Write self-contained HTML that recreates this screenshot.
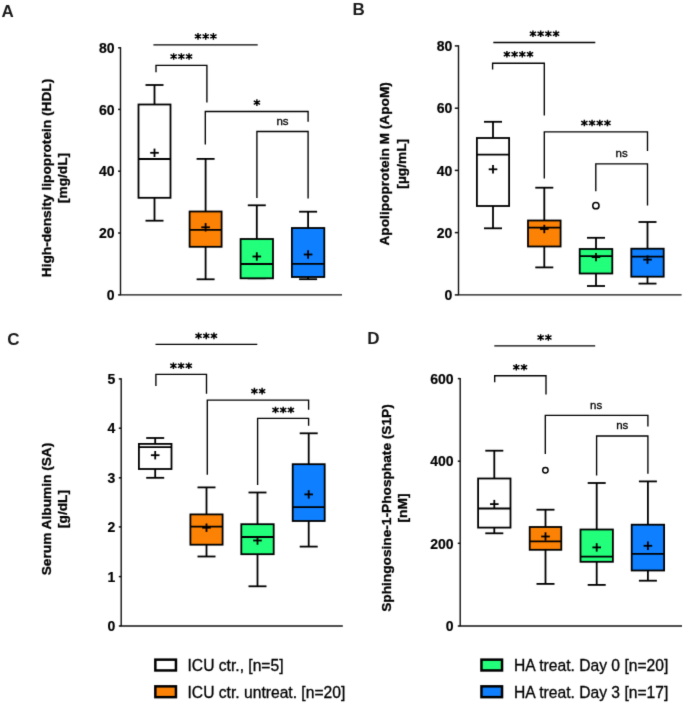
<!DOCTYPE html>
<html><head><meta charset="utf-8"><style>
html,body{margin:0;padding:0;background:#fff;width:685px;height:704px;overflow:hidden}
svg{display:block;font-family:"Liberation Sans",sans-serif;will-change:transform}
</style></head><body>
<svg width="685" height="704" viewBox="0 0 685 704">
<defs><filter id="bl" x="0" y="0" width="685" height="704" filterUnits="userSpaceOnUse" color-interpolation-filters="sRGB"><feConvolveMatrix order="3" kernelMatrix="0.01134 0.08382 0.01134 0.08382 0.61935 0.08382 0.01134 0.08382 0.01134" edgeMode="duplicate" preserveAlpha="true"/></filter></defs>
<g filter="url(#bl)">
<rect width="685" height="704" fill="#fff"/>
<text x="1.5" y="16.8" font-size="17" font-weight="bold" text-anchor="start" fill="#1a1a1a" >A</text>
<text x="352.4" y="15" font-size="17" font-weight="bold" text-anchor="start" fill="#1a1a1a" >B</text>
<text x="7.2" y="344.9" font-size="17" font-weight="bold" text-anchor="start" fill="#1a1a1a" >C</text>
<text x="367.2" y="343.6" font-size="17" font-weight="bold" text-anchor="start" fill="#1a1a1a" >D</text>
<line x1="120.5" y1="47.099999999999994" x2="120.5" y2="294.9" stroke="#111" stroke-width="1.4" stroke-linecap="butt"/>
<line x1="119.8" y1="294.9" x2="342" y2="294.9" stroke="#111" stroke-width="1.4" stroke-linecap="butt"/>
<line x1="118.1" y1="47.8" x2="120.5" y2="47.8" stroke="#111" stroke-width="1.5" stroke-linecap="butt"/>
<text transform="translate(114.6,53.0) scale(0.905,1)" font-size="15.5" font-weight="bold" text-anchor="end" stroke="#000" stroke-width="0.2">80</text>
<line x1="118.1" y1="109.4" x2="120.5" y2="109.4" stroke="#111" stroke-width="1.5" stroke-linecap="butt"/>
<text transform="translate(114.6,114.6) scale(0.905,1)" font-size="15.5" font-weight="bold" text-anchor="end" stroke="#000" stroke-width="0.2">60</text>
<line x1="118.1" y1="171.2" x2="120.5" y2="171.2" stroke="#111" stroke-width="1.5" stroke-linecap="butt"/>
<text transform="translate(114.6,176.4) scale(0.905,1)" font-size="15.5" font-weight="bold" text-anchor="end" stroke="#000" stroke-width="0.2">40</text>
<line x1="118.1" y1="233.0" x2="120.5" y2="233.0" stroke="#111" stroke-width="1.5" stroke-linecap="butt"/>
<text transform="translate(114.6,238.2) scale(0.905,1)" font-size="15.5" font-weight="bold" text-anchor="end" stroke="#000" stroke-width="0.2">20</text>
<line x1="118.1" y1="294.9" x2="120.5" y2="294.9" stroke="#111" stroke-width="1.5" stroke-linecap="butt"/>
<text transform="translate(114.6,300.1) scale(0.905,1)" font-size="15.5" font-weight="bold" text-anchor="end" stroke="#000" stroke-width="0.2">0</text>
<text transform="translate(51.4,178) rotate(-90)" font-size="13.7" font-weight="bold" text-anchor="middle" stroke="#000" stroke-width="0.3">High-density lipoprotein (HDL)</text>
<text transform="translate(67.0,178) rotate(-90)" font-size="13.7" font-weight="bold" text-anchor="middle" stroke="#000" stroke-width="0.3">[mg/dL]</text>
<line x1="154.5" y1="85" x2="154.5" y2="104.5" stroke="#000" stroke-width="1.8" stroke-linecap="butt"/>
<line x1="154.5" y1="197.8" x2="154.5" y2="220.7" stroke="#000" stroke-width="1.8" stroke-linecap="butt"/>
<line x1="145.5" y1="85" x2="163.5" y2="85" stroke="#000" stroke-width="1.8" stroke-linecap="butt"/>
<line x1="145.5" y1="220.7" x2="163.5" y2="220.7" stroke="#000" stroke-width="1.8" stroke-linecap="butt"/>
<rect x="138.5" y="104.5" width="32" height="93.30000000000001" fill="#fff" stroke="#000" stroke-width="1.8"/>
<line x1="138.5" y1="159" x2="170.5" y2="159" stroke="#000" stroke-width="1.8" stroke-linecap="butt"/>
<line x1="150.2" y1="152.8" x2="158.8" y2="152.8" stroke="#000" stroke-width="1.8" stroke-linecap="butt"/>
<line x1="154.5" y1="148.60000000000002" x2="154.5" y2="157.0" stroke="#000" stroke-width="1.8" stroke-linecap="butt"/>
<line x1="205.6" y1="158.9" x2="205.6" y2="211.5" stroke="#000" stroke-width="1.8" stroke-linecap="butt"/>
<line x1="205.6" y1="246.8" x2="205.6" y2="279.3" stroke="#000" stroke-width="1.8" stroke-linecap="butt"/>
<line x1="196.6" y1="158.9" x2="214.6" y2="158.9" stroke="#000" stroke-width="1.8" stroke-linecap="butt"/>
<line x1="196.6" y1="279.3" x2="214.6" y2="279.3" stroke="#000" stroke-width="1.8" stroke-linecap="butt"/>
<rect x="189.6" y="211.5" width="32" height="35.30000000000001" fill="#FC8205" stroke="#000" stroke-width="1.8"/>
<line x1="189.6" y1="229.8" x2="221.6" y2="229.8" stroke="#000" stroke-width="1.8" stroke-linecap="butt"/>
<line x1="201.29999999999998" y1="227.3" x2="209.9" y2="227.3" stroke="#000" stroke-width="1.8" stroke-linecap="butt"/>
<line x1="205.6" y1="223.10000000000002" x2="205.6" y2="231.5" stroke="#000" stroke-width="1.8" stroke-linecap="butt"/>
<line x1="256.8" y1="205.3" x2="256.8" y2="239" stroke="#000" stroke-width="1.8" stroke-linecap="butt"/>
<line x1="256.8" y1="278.3" x2="256.8" y2="278.3" stroke="#000" stroke-width="1.8" stroke-linecap="butt"/>
<line x1="247.8" y1="205.3" x2="265.8" y2="205.3" stroke="#000" stroke-width="1.8" stroke-linecap="butt"/>
<line x1="247.8" y1="278.3" x2="265.8" y2="278.3" stroke="#000" stroke-width="1.8" stroke-linecap="butt"/>
<rect x="240.60000000000002" y="239" width="32.4" height="39.30000000000001" fill="#22FF7A" stroke="#000" stroke-width="1.8"/>
<line x1="240.60000000000002" y1="264" x2="273.0" y2="264" stroke="#000" stroke-width="1.8" stroke-linecap="butt"/>
<line x1="252.5" y1="256.5" x2="261.1" y2="256.5" stroke="#000" stroke-width="1.8" stroke-linecap="butt"/>
<line x1="256.8" y1="252.3" x2="256.8" y2="260.7" stroke="#000" stroke-width="1.8" stroke-linecap="butt"/>
<line x1="308.1" y1="211.7" x2="308.1" y2="228" stroke="#000" stroke-width="1.8" stroke-linecap="butt"/>
<line x1="308.1" y1="277" x2="308.1" y2="279.2" stroke="#000" stroke-width="1.8" stroke-linecap="butt"/>
<line x1="299.1" y1="211.7" x2="317.1" y2="211.7" stroke="#000" stroke-width="1.8" stroke-linecap="butt"/>
<line x1="299.1" y1="279.2" x2="317.1" y2="279.2" stroke="#000" stroke-width="1.8" stroke-linecap="butt"/>
<rect x="291.90000000000003" y="228" width="32.4" height="49" fill="#0E7FFE" stroke="#000" stroke-width="1.8"/>
<line x1="291.90000000000003" y1="263.8" x2="324.3" y2="263.8" stroke="#000" stroke-width="1.8" stroke-linecap="butt"/>
<line x1="303.8" y1="254.5" x2="312.40000000000003" y2="254.5" stroke="#000" stroke-width="1.8" stroke-linecap="butt"/>
<line x1="308.1" y1="250.3" x2="308.1" y2="258.7" stroke="#000" stroke-width="1.8" stroke-linecap="butt"/>
<line x1="153.4" y1="44.9" x2="257.7" y2="44.9" stroke="#000" stroke-width="1.35" stroke-linecap="butt"/>
<path d="M198.00 33.10V39.70M194.86 34.59L201.14 38.21M194.86 38.21L201.14 34.59" stroke="#000" stroke-width="1.45" fill="none"/><circle cx="198.00" cy="36.40" r="1.35" fill="#000"/>
<path d="M205.70 33.10V39.70M202.56 34.59L208.84 38.21M202.56 38.21L208.84 34.59" stroke="#000" stroke-width="1.45" fill="none"/><circle cx="205.70" cy="36.40" r="1.35" fill="#000"/>
<path d="M213.40 33.10V39.70M210.26 34.59L216.54 38.21M210.26 38.21L216.54 34.59" stroke="#000" stroke-width="1.45" fill="none"/><circle cx="213.40" cy="36.40" r="1.35" fill="#000"/>
<polyline points="156,72.3 156,65.3 206.9,65.3 206.9,102.6" fill="none" stroke="#000" stroke-width="1.35" stroke-linejoin="miter"/>
<path d="M173.65 53.20V59.80M170.51 54.69L176.79 58.31M170.51 58.31L176.79 54.69" stroke="#000" stroke-width="1.45" fill="none"/><circle cx="173.65" cy="56.50" r="1.35" fill="#000"/>
<path d="M181.35 53.20V59.80M178.21 54.69L184.49 58.31M178.21 58.31L184.49 54.69" stroke="#000" stroke-width="1.45" fill="none"/><circle cx="181.35" cy="56.50" r="1.35" fill="#000"/>
<path d="M189.05 53.20V59.80M185.91 54.69L192.19 58.31M185.91 58.31L192.19 54.69" stroke="#000" stroke-width="1.45" fill="none"/><circle cx="189.05" cy="56.50" r="1.35" fill="#000"/>
<polyline points="205.3,144.6 205.3,111.5 308.1,111.5 308.1,121.8" fill="none" stroke="#000" stroke-width="1.35" stroke-linejoin="miter"/>
<path d="M256.90 99.30V105.90M253.76 100.78L260.04 104.41M253.76 104.41L260.04 100.78" stroke="#000" stroke-width="1.45" fill="none"/><circle cx="256.90" cy="102.60" r="1.35" fill="#000"/>
<polyline points="256.9,198.1 256.9,131.5 308.1,131.5 308.1,198.5" fill="none" stroke="#000" stroke-width="1.35" stroke-linejoin="miter"/>
<text x="282.5" y="124.9" font-size="11.5" font-weight="normal" text-anchor="middle" fill="#000" stroke="#000" stroke-width="0.3">ns</text>
<line x1="458.5" y1="45.199999999999996" x2="458.5" y2="294.9" stroke="#111" stroke-width="1.4" stroke-linecap="butt"/>
<line x1="457.8" y1="294.9" x2="681.6" y2="294.9" stroke="#111" stroke-width="1.4" stroke-linecap="butt"/>
<line x1="454.8" y1="45.9" x2="458.5" y2="45.9" stroke="#111" stroke-width="1.5" stroke-linecap="butt"/>
<text transform="translate(452.4,51.1) scale(0.905,1)" font-size="15.5" font-weight="bold" text-anchor="end" stroke="#000" stroke-width="0.2">80</text>
<line x1="454.8" y1="108.2" x2="458.5" y2="108.2" stroke="#111" stroke-width="1.5" stroke-linecap="butt"/>
<text transform="translate(452.4,113.4) scale(0.905,1)" font-size="15.5" font-weight="bold" text-anchor="end" stroke="#000" stroke-width="0.2">60</text>
<line x1="454.8" y1="170.4" x2="458.5" y2="170.4" stroke="#111" stroke-width="1.5" stroke-linecap="butt"/>
<text transform="translate(452.4,175.6) scale(0.905,1)" font-size="15.5" font-weight="bold" text-anchor="end" stroke="#000" stroke-width="0.2">40</text>
<line x1="454.8" y1="232.6" x2="458.5" y2="232.6" stroke="#111" stroke-width="1.5" stroke-linecap="butt"/>
<text transform="translate(452.4,237.8) scale(0.905,1)" font-size="15.5" font-weight="bold" text-anchor="end" stroke="#000" stroke-width="0.2">20</text>
<line x1="454.8" y1="294.9" x2="458.5" y2="294.9" stroke="#111" stroke-width="1.5" stroke-linecap="butt"/>
<text transform="translate(452.4,300.1) scale(0.905,1)" font-size="15.5" font-weight="bold" text-anchor="end" stroke="#000" stroke-width="0.2">0</text>
<text transform="translate(389.4,163.8) rotate(-90)" font-size="13.7" font-weight="bold" text-anchor="middle" stroke="#000" stroke-width="0.3">Apolipoprotein M (ApoM)</text>
<text transform="translate(405.5,163.8) rotate(-90)" font-size="13.7" font-weight="bold" text-anchor="middle" stroke="#000" stroke-width="0.3">[µg/mL]</text>
<line x1="493" y1="121.8" x2="493" y2="138" stroke="#000" stroke-width="1.8" stroke-linecap="butt"/>
<line x1="493" y1="206" x2="493" y2="228.3" stroke="#000" stroke-width="1.8" stroke-linecap="butt"/>
<line x1="484" y1="121.8" x2="502" y2="121.8" stroke="#000" stroke-width="1.8" stroke-linecap="butt"/>
<line x1="484" y1="228.3" x2="502" y2="228.3" stroke="#000" stroke-width="1.8" stroke-linecap="butt"/>
<rect x="476.9" y="138" width="32.2" height="68" fill="#fff" stroke="#000" stroke-width="1.8"/>
<line x1="476.9" y1="154.6" x2="509.1" y2="154.6" stroke="#000" stroke-width="1.8" stroke-linecap="butt"/>
<line x1="488.7" y1="169.3" x2="497.3" y2="169.3" stroke="#000" stroke-width="1.8" stroke-linecap="butt"/>
<line x1="493" y1="165.10000000000002" x2="493" y2="173.5" stroke="#000" stroke-width="1.8" stroke-linecap="butt"/>
<line x1="544.3" y1="187.7" x2="544.3" y2="220.5" stroke="#000" stroke-width="1.8" stroke-linecap="butt"/>
<line x1="544.3" y1="246.5" x2="544.3" y2="267.4" stroke="#000" stroke-width="1.8" stroke-linecap="butt"/>
<line x1="535.3" y1="187.7" x2="553.3" y2="187.7" stroke="#000" stroke-width="1.8" stroke-linecap="butt"/>
<line x1="535.3" y1="267.4" x2="553.3" y2="267.4" stroke="#000" stroke-width="1.8" stroke-linecap="butt"/>
<rect x="528.0" y="220.5" width="32.6" height="26.0" fill="#FC8205" stroke="#000" stroke-width="1.8"/>
<line x1="528.0" y1="227.7" x2="560.5999999999999" y2="227.7" stroke="#000" stroke-width="1.8" stroke-linecap="butt"/>
<line x1="540.0" y1="229" x2="548.5999999999999" y2="229" stroke="#000" stroke-width="1.8" stroke-linecap="butt"/>
<line x1="544.3" y1="224.8" x2="544.3" y2="233.2" stroke="#000" stroke-width="1.8" stroke-linecap="butt"/>
<line x1="596" y1="237.8" x2="596" y2="249" stroke="#000" stroke-width="1.8" stroke-linecap="butt"/>
<line x1="596" y1="273.5" x2="596" y2="286" stroke="#000" stroke-width="1.8" stroke-linecap="butt"/>
<line x1="587" y1="237.8" x2="605" y2="237.8" stroke="#000" stroke-width="1.8" stroke-linecap="butt"/>
<line x1="587" y1="286" x2="605" y2="286" stroke="#000" stroke-width="1.8" stroke-linecap="butt"/>
<rect x="579.7" y="249" width="32.6" height="24.5" fill="#22FF7A" stroke="#000" stroke-width="1.8"/>
<line x1="579.7" y1="256.2" x2="612.3" y2="256.2" stroke="#000" stroke-width="1.8" stroke-linecap="butt"/>
<line x1="591.7" y1="257.1" x2="600.3" y2="257.1" stroke="#000" stroke-width="1.8" stroke-linecap="butt"/>
<line x1="596" y1="252.90000000000003" x2="596" y2="261.3" stroke="#000" stroke-width="1.8" stroke-linecap="butt"/>
<line x1="647.5" y1="222" x2="647.5" y2="248.7" stroke="#000" stroke-width="1.8" stroke-linecap="butt"/>
<line x1="647.5" y1="276.7" x2="647.5" y2="283.6" stroke="#000" stroke-width="1.8" stroke-linecap="butt"/>
<line x1="638.5" y1="222" x2="656.5" y2="222" stroke="#000" stroke-width="1.8" stroke-linecap="butt"/>
<line x1="638.5" y1="283.6" x2="656.5" y2="283.6" stroke="#000" stroke-width="1.8" stroke-linecap="butt"/>
<rect x="631.3" y="248.7" width="32.4" height="28.0" fill="#0E7FFE" stroke="#000" stroke-width="1.8"/>
<line x1="631.3" y1="256.6" x2="663.7" y2="256.6" stroke="#000" stroke-width="1.8" stroke-linecap="butt"/>
<line x1="643.2" y1="259.6" x2="651.8" y2="259.6" stroke="#000" stroke-width="1.8" stroke-linecap="butt"/>
<line x1="647.5" y1="255.40000000000003" x2="647.5" y2="263.8" stroke="#000" stroke-width="1.8" stroke-linecap="butt"/>
<circle cx="595.9" cy="205.7" r="3.15" fill="#fff" stroke="#000" stroke-width="1.5"/>
<line x1="493.3" y1="42.5" x2="595.3" y2="42.5" stroke="#000" stroke-width="1.35" stroke-linecap="butt"/>
<path d="M532.95 30.45V37.05M529.81 31.93L536.09 35.56M529.81 35.56L536.09 31.93" stroke="#000" stroke-width="1.45" fill="none"/><circle cx="532.95" cy="33.75" r="1.35" fill="#000"/>
<path d="M540.65 30.45V37.05M537.51 31.93L543.79 35.56M537.51 35.56L543.79 31.93" stroke="#000" stroke-width="1.45" fill="none"/><circle cx="540.65" cy="33.75" r="1.35" fill="#000"/>
<path d="M548.35 30.45V37.05M545.21 31.93L551.49 35.56M545.21 35.56L551.49 31.93" stroke="#000" stroke-width="1.45" fill="none"/><circle cx="548.35" cy="33.75" r="1.35" fill="#000"/>
<path d="M556.05 30.45V37.05M552.91 31.93L559.19 35.56M552.91 35.56L559.19 31.93" stroke="#000" stroke-width="1.45" fill="none"/><circle cx="556.05" cy="33.75" r="1.35" fill="#000"/>
<polyline points="492.6,69.5 492.6,63.2 544.3,63.2 544.3,115.5" fill="none" stroke="#000" stroke-width="1.35" stroke-linejoin="miter"/>
<path d="M506.90 50.90V57.50M503.76 52.39L510.04 56.02M503.76 56.02L510.04 52.39" stroke="#000" stroke-width="1.45" fill="none"/><circle cx="506.90" cy="54.20" r="1.35" fill="#000"/>
<path d="M514.60 50.90V57.50M511.46 52.39L517.74 56.02M511.46 56.02L517.74 52.39" stroke="#000" stroke-width="1.45" fill="none"/><circle cx="514.60" cy="54.20" r="1.35" fill="#000"/>
<path d="M522.30 50.90V57.50M519.16 52.39L525.44 56.02M519.16 56.02L525.44 52.39" stroke="#000" stroke-width="1.45" fill="none"/><circle cx="522.30" cy="54.20" r="1.35" fill="#000"/>
<path d="M530.00 50.90V57.50M526.86 52.39L533.14 56.02M526.86 56.02L533.14 52.39" stroke="#000" stroke-width="1.45" fill="none"/><circle cx="530.00" cy="54.20" r="1.35" fill="#000"/>
<polyline points="544.3,178.5 544.3,131.9 647.5,131.9 647.5,150.9" fill="none" stroke="#000" stroke-width="1.35" stroke-linejoin="miter"/>
<path d="M584.35 119.70V126.30M581.21 121.19L587.49 124.81M581.21 124.81L587.49 121.19" stroke="#000" stroke-width="1.45" fill="none"/><circle cx="584.35" cy="123.00" r="1.35" fill="#000"/>
<path d="M592.05 119.70V126.30M588.91 121.19L595.19 124.81M588.91 124.81L595.19 121.19" stroke="#000" stroke-width="1.45" fill="none"/><circle cx="592.05" cy="123.00" r="1.35" fill="#000"/>
<path d="M599.75 119.70V126.30M596.61 121.19L602.89 124.81M596.61 124.81L602.89 121.19" stroke="#000" stroke-width="1.45" fill="none"/><circle cx="599.75" cy="123.00" r="1.35" fill="#000"/>
<path d="M607.45 119.70V126.30M604.31 121.19L610.59 124.81M604.31 124.81L610.59 121.19" stroke="#000" stroke-width="1.45" fill="none"/><circle cx="607.45" cy="123.00" r="1.35" fill="#000"/>
<polyline points="595.8,191.3 595.8,163.8 647.5,163.8 647.5,205.4" fill="none" stroke="#000" stroke-width="1.35" stroke-linejoin="miter"/>
<text x="621.6" y="157.4" font-size="11.5" font-weight="normal" text-anchor="middle" fill="#000" stroke="#000" stroke-width="0.3">ns</text>
<line x1="121.2" y1="378.2" x2="121.2" y2="626" stroke="#111" stroke-width="1.4" stroke-linecap="butt"/>
<line x1="120.5" y1="626" x2="342.8" y2="626" stroke="#111" stroke-width="1.4" stroke-linecap="butt"/>
<line x1="118.8" y1="378.9" x2="121.2" y2="378.9" stroke="#111" stroke-width="1.5" stroke-linecap="butt"/>
<text transform="translate(115.2,384.1) scale(0.905,1)" font-size="15.5" font-weight="bold" text-anchor="end" stroke="#000" stroke-width="0.2">5</text>
<line x1="118.8" y1="428.2" x2="121.2" y2="428.2" stroke="#111" stroke-width="1.5" stroke-linecap="butt"/>
<text transform="translate(115.2,433.4) scale(0.905,1)" font-size="15.5" font-weight="bold" text-anchor="end" stroke="#000" stroke-width="0.2">4</text>
<line x1="118.8" y1="477.8" x2="121.2" y2="477.8" stroke="#111" stroke-width="1.5" stroke-linecap="butt"/>
<text transform="translate(115.2,483.0) scale(0.905,1)" font-size="15.5" font-weight="bold" text-anchor="end" stroke="#000" stroke-width="0.2">3</text>
<line x1="118.8" y1="526.9" x2="121.2" y2="526.9" stroke="#111" stroke-width="1.5" stroke-linecap="butt"/>
<text transform="translate(115.2,532.1) scale(0.905,1)" font-size="15.5" font-weight="bold" text-anchor="end" stroke="#000" stroke-width="0.2">2</text>
<line x1="118.8" y1="576.6" x2="121.2" y2="576.6" stroke="#111" stroke-width="1.5" stroke-linecap="butt"/>
<text transform="translate(115.2,581.8) scale(0.905,1)" font-size="15.5" font-weight="bold" text-anchor="end" stroke="#000" stroke-width="0.2">1</text>
<line x1="118.8" y1="626" x2="121.2" y2="626" stroke="#111" stroke-width="1.5" stroke-linecap="butt"/>
<text transform="translate(115.2,631.2) scale(0.905,1)" font-size="15.5" font-weight="bold" text-anchor="end" stroke="#000" stroke-width="0.2">0</text>
<text transform="translate(51.4,509) rotate(-90)" font-size="13.7" font-weight="bold" text-anchor="middle" stroke="#000" stroke-width="0.3">Serum Albumin (SA)</text>
<text transform="translate(67.0,509) rotate(-90)" font-size="13.7" font-weight="bold" text-anchor="middle" stroke="#000" stroke-width="0.3">[g/dL]</text>
<line x1="155.2" y1="438" x2="155.2" y2="443.9" stroke="#000" stroke-width="1.8" stroke-linecap="butt"/>
<line x1="155.2" y1="469" x2="155.2" y2="477.8" stroke="#000" stroke-width="1.8" stroke-linecap="butt"/>
<line x1="146.2" y1="438" x2="164.2" y2="438" stroke="#000" stroke-width="1.8" stroke-linecap="butt"/>
<line x1="146.2" y1="477.8" x2="164.2" y2="477.8" stroke="#000" stroke-width="1.8" stroke-linecap="butt"/>
<rect x="138.89999999999998" y="443.9" width="32.6" height="25.100000000000023" fill="#fff" stroke="#000" stroke-width="1.8"/>
<line x1="138.89999999999998" y1="447.2" x2="171.5" y2="447.2" stroke="#000" stroke-width="1.8" stroke-linecap="butt"/>
<line x1="150.89999999999998" y1="455.2" x2="159.5" y2="455.2" stroke="#000" stroke-width="1.8" stroke-linecap="butt"/>
<line x1="155.2" y1="451.0" x2="155.2" y2="459.4" stroke="#000" stroke-width="1.8" stroke-linecap="butt"/>
<line x1="206.5" y1="487.4" x2="206.5" y2="514.4" stroke="#000" stroke-width="1.8" stroke-linecap="butt"/>
<line x1="206.5" y1="544.7" x2="206.5" y2="556.5" stroke="#000" stroke-width="1.8" stroke-linecap="butt"/>
<line x1="197.5" y1="487.4" x2="215.5" y2="487.4" stroke="#000" stroke-width="1.8" stroke-linecap="butt"/>
<line x1="197.5" y1="556.5" x2="215.5" y2="556.5" stroke="#000" stroke-width="1.8" stroke-linecap="butt"/>
<rect x="190.4" y="514.4" width="32.2" height="30.300000000000068" fill="#FC8205" stroke="#000" stroke-width="1.8"/>
<line x1="190.4" y1="526.7" x2="222.6" y2="526.7" stroke="#000" stroke-width="1.8" stroke-linecap="butt"/>
<line x1="202.2" y1="527.7" x2="210.8" y2="527.7" stroke="#000" stroke-width="1.8" stroke-linecap="butt"/>
<line x1="206.5" y1="523.5" x2="206.5" y2="531.9000000000001" stroke="#000" stroke-width="1.8" stroke-linecap="butt"/>
<line x1="257.5" y1="492.5" x2="257.5" y2="524.2" stroke="#000" stroke-width="1.8" stroke-linecap="butt"/>
<line x1="257.5" y1="554.2" x2="257.5" y2="586.3" stroke="#000" stroke-width="1.8" stroke-linecap="butt"/>
<line x1="248.5" y1="492.5" x2="266.5" y2="492.5" stroke="#000" stroke-width="1.8" stroke-linecap="butt"/>
<line x1="248.5" y1="586.3" x2="266.5" y2="586.3" stroke="#000" stroke-width="1.8" stroke-linecap="butt"/>
<rect x="241.3" y="524.2" width="32.4" height="30.0" fill="#22FF7A" stroke="#000" stroke-width="1.8"/>
<line x1="241.3" y1="537" x2="273.7" y2="537" stroke="#000" stroke-width="1.8" stroke-linecap="butt"/>
<line x1="253.2" y1="540.5" x2="261.8" y2="540.5" stroke="#000" stroke-width="1.8" stroke-linecap="butt"/>
<line x1="257.5" y1="536.3" x2="257.5" y2="544.7" stroke="#000" stroke-width="1.8" stroke-linecap="butt"/>
<line x1="308.7" y1="433.3" x2="308.7" y2="464.2" stroke="#000" stroke-width="1.8" stroke-linecap="butt"/>
<line x1="308.7" y1="521" x2="308.7" y2="546.6" stroke="#000" stroke-width="1.8" stroke-linecap="butt"/>
<line x1="299.7" y1="433.3" x2="317.7" y2="433.3" stroke="#000" stroke-width="1.8" stroke-linecap="butt"/>
<line x1="299.7" y1="546.6" x2="317.7" y2="546.6" stroke="#000" stroke-width="1.8" stroke-linecap="butt"/>
<rect x="292.7" y="464.2" width="32" height="56.80000000000001" fill="#0E7FFE" stroke="#000" stroke-width="1.8"/>
<line x1="292.7" y1="507.2" x2="324.7" y2="507.2" stroke="#000" stroke-width="1.8" stroke-linecap="butt"/>
<line x1="304.4" y1="494.4" x2="313.0" y2="494.4" stroke="#000" stroke-width="1.8" stroke-linecap="butt"/>
<line x1="308.7" y1="490.2" x2="308.7" y2="498.59999999999997" stroke="#000" stroke-width="1.8" stroke-linecap="butt"/>
<line x1="155.5" y1="344.3" x2="257.3" y2="344.3" stroke="#000" stroke-width="1.35" stroke-linecap="butt"/>
<path d="M198.55 332.55V339.15M195.41 334.04L201.69 337.67M195.41 337.67L201.69 334.04" stroke="#000" stroke-width="1.45" fill="none"/><circle cx="198.55" cy="335.85" r="1.35" fill="#000"/>
<path d="M206.25 332.55V339.15M203.11 334.04L209.39 337.67M203.11 337.67L209.39 334.04" stroke="#000" stroke-width="1.45" fill="none"/><circle cx="206.25" cy="335.85" r="1.35" fill="#000"/>
<path d="M213.95 332.55V339.15M210.81 334.04L217.09 337.67M210.81 337.67L217.09 334.04" stroke="#000" stroke-width="1.45" fill="none"/><circle cx="213.95" cy="335.85" r="1.35" fill="#000"/>
<polyline points="155.9,386 155.9,374.4 206.5,374.4 206.5,393.7" fill="none" stroke="#000" stroke-width="1.35" stroke-linejoin="miter"/>
<path d="M173.40 362.50V369.10M170.26 363.99L176.54 367.62M170.26 367.62L176.54 363.99" stroke="#000" stroke-width="1.45" fill="none"/><circle cx="173.40" cy="365.80" r="1.35" fill="#000"/>
<path d="M181.10 362.50V369.10M177.96 363.99L184.24 367.62M177.96 367.62L184.24 363.99" stroke="#000" stroke-width="1.45" fill="none"/><circle cx="181.10" cy="365.80" r="1.35" fill="#000"/>
<path d="M188.80 362.50V369.10M185.66 363.99L191.94 367.62M185.66 367.62L191.94 363.99" stroke="#000" stroke-width="1.45" fill="none"/><circle cx="188.80" cy="365.80" r="1.35" fill="#000"/>
<polyline points="207.3,474.8 207.3,400.1 308.6,400.1 308.6,409.7" fill="none" stroke="#000" stroke-width="1.35" stroke-linejoin="miter"/>
<path d="M254.40 387.85V394.45M251.26 389.33L257.54 392.96M251.26 392.96L257.54 389.33" stroke="#000" stroke-width="1.45" fill="none"/><circle cx="254.40" cy="391.15" r="1.35" fill="#000"/>
<path d="M262.10 387.85V394.45M258.96 389.33L265.24 392.96M258.96 392.96L265.24 389.33" stroke="#000" stroke-width="1.45" fill="none"/><circle cx="262.10" cy="391.15" r="1.35" fill="#000"/>
<polyline points="257.6,485.1 257.6,418.3 308.6,418.3 308.6,425.8" fill="none" stroke="#000" stroke-width="1.35" stroke-linejoin="miter"/>
<path d="M275.50 406.65V413.25M272.36 408.13L278.64 411.76M272.36 411.76L278.64 408.13" stroke="#000" stroke-width="1.45" fill="none"/><circle cx="275.50" cy="409.95" r="1.35" fill="#000"/>
<path d="M283.20 406.65V413.25M280.06 408.13L286.34 411.76M280.06 411.76L286.34 408.13" stroke="#000" stroke-width="1.45" fill="none"/><circle cx="283.20" cy="409.95" r="1.35" fill="#000"/>
<path d="M290.90 406.65V413.25M287.76 408.13L294.04 411.76M287.76 411.76L294.04 408.13" stroke="#000" stroke-width="1.45" fill="none"/><circle cx="290.90" cy="409.95" r="1.35" fill="#000"/>
<line x1="460.2" y1="377.90000000000003" x2="460.2" y2="626" stroke="#111" stroke-width="1.4" stroke-linecap="butt"/>
<line x1="459.5" y1="626" x2="682" y2="626" stroke="#111" stroke-width="1.4" stroke-linecap="butt"/>
<line x1="457.8" y1="378.6" x2="460.2" y2="378.6" stroke="#111" stroke-width="1.5" stroke-linecap="butt"/>
<text transform="translate(453.6,383.8) scale(0.905,1)" font-size="15.5" font-weight="bold" text-anchor="end" stroke="#000" stroke-width="0.2">600</text>
<line x1="457.8" y1="461.2" x2="460.2" y2="461.2" stroke="#111" stroke-width="1.5" stroke-linecap="butt"/>
<text transform="translate(453.6,466.4) scale(0.905,1)" font-size="15.5" font-weight="bold" text-anchor="end" stroke="#000" stroke-width="0.2">400</text>
<line x1="457.8" y1="543.3" x2="460.2" y2="543.3" stroke="#111" stroke-width="1.5" stroke-linecap="butt"/>
<text transform="translate(453.6,548.5) scale(0.905,1)" font-size="15.5" font-weight="bold" text-anchor="end" stroke="#000" stroke-width="0.2">200</text>
<line x1="457.8" y1="626" x2="460.2" y2="626" stroke="#111" stroke-width="1.5" stroke-linecap="butt"/>
<text transform="translate(453.6,631.2) scale(0.905,1)" font-size="15.5" font-weight="bold" text-anchor="end" stroke="#000" stroke-width="0.2">0</text>
<text transform="translate(391.4,508) rotate(-90)" font-size="13.7" font-weight="bold" text-anchor="middle" stroke="#000" stroke-width="0.3">Sphingosine-1-Phosphate (S1P)</text>
<text transform="translate(406.6,508) rotate(-90)" font-size="13.7" font-weight="bold" text-anchor="middle" stroke="#000" stroke-width="0.3">[nM]</text>
<line x1="494.3" y1="450.7" x2="494.3" y2="478.5" stroke="#000" stroke-width="1.8" stroke-linecap="butt"/>
<line x1="494.3" y1="527.6" x2="494.3" y2="533.3" stroke="#000" stroke-width="1.8" stroke-linecap="butt"/>
<line x1="485.3" y1="450.7" x2="503.3" y2="450.7" stroke="#000" stroke-width="1.8" stroke-linecap="butt"/>
<line x1="485.3" y1="533.3" x2="503.3" y2="533.3" stroke="#000" stroke-width="1.8" stroke-linecap="butt"/>
<rect x="478.1" y="478.5" width="32.4" height="49.10000000000002" fill="#fff" stroke="#000" stroke-width="1.8"/>
<line x1="478.1" y1="508.5" x2="510.5" y2="508.5" stroke="#000" stroke-width="1.8" stroke-linecap="butt"/>
<line x1="490.0" y1="504.1" x2="498.6" y2="504.1" stroke="#000" stroke-width="1.8" stroke-linecap="butt"/>
<line x1="494.3" y1="499.90000000000003" x2="494.3" y2="508.3" stroke="#000" stroke-width="1.8" stroke-linecap="butt"/>
<line x1="545.5" y1="509.7" x2="545.5" y2="527" stroke="#000" stroke-width="1.8" stroke-linecap="butt"/>
<line x1="545.5" y1="549.8" x2="545.5" y2="583.9" stroke="#000" stroke-width="1.8" stroke-linecap="butt"/>
<line x1="536.5" y1="509.7" x2="554.5" y2="509.7" stroke="#000" stroke-width="1.8" stroke-linecap="butt"/>
<line x1="536.5" y1="583.9" x2="554.5" y2="583.9" stroke="#000" stroke-width="1.8" stroke-linecap="butt"/>
<rect x="529.7" y="527" width="31.6" height="22.799999999999955" fill="#FC8205" stroke="#000" stroke-width="1.8"/>
<line x1="529.7" y1="541.3" x2="561.3" y2="541.3" stroke="#000" stroke-width="1.8" stroke-linecap="butt"/>
<line x1="541.2" y1="536.5" x2="549.8" y2="536.5" stroke="#000" stroke-width="1.8" stroke-linecap="butt"/>
<line x1="545.5" y1="532.3" x2="545.5" y2="540.7" stroke="#000" stroke-width="1.8" stroke-linecap="butt"/>
<line x1="596.7" y1="483" x2="596.7" y2="529.5" stroke="#000" stroke-width="1.8" stroke-linecap="butt"/>
<line x1="596.7" y1="561.8" x2="596.7" y2="584.9" stroke="#000" stroke-width="1.8" stroke-linecap="butt"/>
<line x1="587.7" y1="483" x2="605.7" y2="483" stroke="#000" stroke-width="1.8" stroke-linecap="butt"/>
<line x1="587.7" y1="584.9" x2="605.7" y2="584.9" stroke="#000" stroke-width="1.8" stroke-linecap="butt"/>
<rect x="580.5" y="529.5" width="32.4" height="32.299999999999955" fill="#22FF7A" stroke="#000" stroke-width="1.8"/>
<line x1="580.5" y1="556.7" x2="612.9000000000001" y2="556.7" stroke="#000" stroke-width="1.8" stroke-linecap="butt"/>
<line x1="592.4000000000001" y1="547.4" x2="601.0" y2="547.4" stroke="#000" stroke-width="1.8" stroke-linecap="butt"/>
<line x1="596.7" y1="543.1999999999999" x2="596.7" y2="551.6" stroke="#000" stroke-width="1.8" stroke-linecap="butt"/>
<line x1="647.9" y1="481.4" x2="647.9" y2="524.7" stroke="#000" stroke-width="1.8" stroke-linecap="butt"/>
<line x1="647.9" y1="570.5" x2="647.9" y2="580.7" stroke="#000" stroke-width="1.8" stroke-linecap="butt"/>
<line x1="638.9" y1="481.4" x2="656.9" y2="481.4" stroke="#000" stroke-width="1.8" stroke-linecap="butt"/>
<line x1="638.9" y1="580.7" x2="656.9" y2="580.7" stroke="#000" stroke-width="1.8" stroke-linecap="butt"/>
<rect x="631.6999999999999" y="524.7" width="32.4" height="45.799999999999955" fill="#0E7FFE" stroke="#000" stroke-width="1.8"/>
<line x1="631.6999999999999" y1="553.9" x2="664.1" y2="553.9" stroke="#000" stroke-width="1.8" stroke-linecap="butt"/>
<line x1="643.6" y1="545.8" x2="652.1999999999999" y2="545.8" stroke="#000" stroke-width="1.8" stroke-linecap="butt"/>
<line x1="647.9" y1="541.5999999999999" x2="647.9" y2="550.0" stroke="#000" stroke-width="1.8" stroke-linecap="butt"/>
<circle cx="545.4" cy="470.2" r="2.7" fill="#fff" stroke="#000" stroke-width="1.45"/>
<line x1="494.3" y1="345.9" x2="595.2" y2="345.9" stroke="#000" stroke-width="1.35" stroke-linecap="butt"/>
<path d="M540.65 334.25V340.85M537.51 335.74L543.79 339.37M537.51 339.37L543.79 335.74" stroke="#000" stroke-width="1.45" fill="none"/><circle cx="540.65" cy="337.55" r="1.35" fill="#000"/>
<path d="M548.35 334.25V340.85M545.21 335.74L551.49 339.37M545.21 339.37L551.49 335.74" stroke="#000" stroke-width="1.45" fill="none"/><circle cx="548.35" cy="337.55" r="1.35" fill="#000"/>
<polyline points="494.7,382.3 494.7,375.7 546,375.7 546,394.5" fill="none" stroke="#000" stroke-width="1.35" stroke-linejoin="miter"/>
<path d="M516.30 363.95V370.55M513.16 365.44L519.44 369.06M513.16 369.06L519.44 365.44" stroke="#000" stroke-width="1.45" fill="none"/><circle cx="516.30" cy="367.25" r="1.35" fill="#000"/>
<path d="M524.00 363.95V370.55M520.86 365.44L527.14 369.06M520.86 369.06L527.14 365.44" stroke="#000" stroke-width="1.45" fill="none"/><circle cx="524.00" cy="367.25" r="1.35" fill="#000"/>
<polyline points="545.3,453.9 545.3,415.3 647.9,415.3 647.9,426.4" fill="none" stroke="#000" stroke-width="1.35" stroke-linejoin="miter"/>
<text x="596.2" y="408.8" font-size="11.5" font-weight="normal" text-anchor="middle" fill="#000" stroke="#000" stroke-width="0.3">ns</text>
<polyline points="596.6,475.4 596.6,436 647.9,436 647.9,473.8" fill="none" stroke="#000" stroke-width="1.35" stroke-linejoin="miter"/>
<text x="622.3" y="429.4" font-size="11.5" font-weight="normal" text-anchor="middle" fill="#000" stroke="#000" stroke-width="0.3">ns</text>
<rect x="155.35" y="659.65" width="20.6" height="10.8" fill="#fff" stroke="#000" stroke-width="2.5"/>
<rect x="155.35" y="686.35" width="20.6" height="10.8" fill="#FC8205" stroke="#000" stroke-width="2.5"/>
<rect x="481.45" y="659.65" width="20.6" height="10.8" fill="#22FF7A" stroke="#000" stroke-width="2.5"/>
<rect x="481.45" y="686.35" width="20.6" height="10.8" fill="#0E7FFE" stroke="#000" stroke-width="2.5"/>
<text x="187.5" y="671.2" font-size="15.65" font-weight="normal" text-anchor="start" fill="#000" stroke="#000" stroke-width="0.3">ICU ctr., [n=5]</text>
<text x="187.5" y="698.1" font-size="15.65" font-weight="normal" text-anchor="start" fill="#000" stroke="#000" stroke-width="0.3">ICU ctr. untreat. [n=20]</text>
<text x="514.0" y="671.2" font-size="15.65" font-weight="normal" text-anchor="start" fill="#000" stroke="#000" stroke-width="0.3">HA treat. Day 0 [n=20]</text>
<text x="514.0" y="698.1" font-size="15.65" font-weight="normal" text-anchor="start" fill="#000" stroke="#000" stroke-width="0.3">HA treat. Day 3 [n=17]</text>
</g>
</svg>
</body></html>
